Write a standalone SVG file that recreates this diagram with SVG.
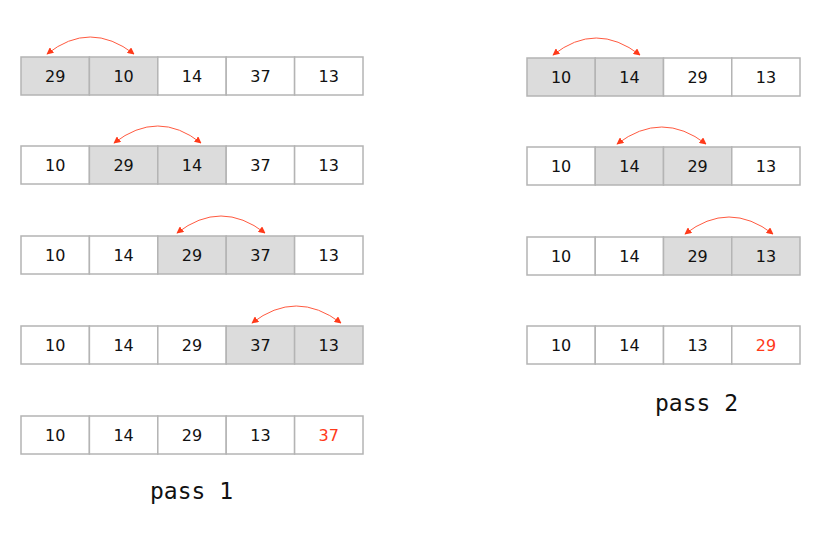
<svg xmlns="http://www.w3.org/2000/svg" width="824" height="533" viewBox="0 0 824 533">
<defs>
<style>
.c{fill:#fff;stroke:#b4b4b4;stroke-width:1.5}
.g{fill:#dcdcdc;stroke:#b4b4b4;stroke-width:1.5}
.t{font-family:"DejaVu Sans",Verdana,sans-serif;font-size:16px;fill:#111;text-anchor:middle}
.r{fill:#ff3a1a}
.a{fill:none;stroke:#ff5a40;stroke-width:1;marker-start:url(#ah);marker-end:url(#ah)}
.p{font-family:"DejaVu Sans Mono","Liberation Mono",monospace;font-size:23px;fill:#111}
</style>
<marker id="ah" viewBox="0 0 10 10" refX="9" refY="5" markerWidth="7" markerHeight="7" markerUnits="userSpaceOnUse" orient="auto-start-reverse">
<path d="M0,0 L10,5 L0,10 z" fill="#ff3a1a"/>
</marker>
</defs>
<rect width="824" height="533" fill="#fff"/>

<g id="p1r1">
<rect class="g" x="21" y="57" width="68.4" height="38"/><rect class="g" x="89.4" y="57" width="68.4" height="38"/><rect class="c" x="157.8" y="57" width="68.4" height="38"/><rect class="c" x="226.2" y="57" width="68.4" height="38"/><rect class="c" x="294.6" y="57" width="68.4" height="38"/>
<text class="t" x="55.2" y="82">29</text><text class="t" x="123.6" y="82">10</text><text class="t" x="192" y="82">14</text><text class="t" x="260.4" y="82">37</text><text class="t" x="328.8" y="82">13</text>
</g>
<g id="p1r2">
<rect class="c" x="21" y="146" width="68.4" height="38"/><rect class="g" x="89.4" y="146" width="68.4" height="38"/><rect class="g" x="157.8" y="146" width="68.4" height="38"/><rect class="c" x="226.2" y="146" width="68.4" height="38"/><rect class="c" x="294.6" y="146" width="68.4" height="38"/>
<text class="t" x="55.2" y="171">10</text><text class="t" x="123.6" y="171">29</text><text class="t" x="192" y="171">14</text><text class="t" x="260.4" y="171">37</text><text class="t" x="328.8" y="171">13</text>
</g>
<g id="p1r3">
<rect class="c" x="21" y="236" width="68.4" height="38"/><rect class="c" x="89.4" y="236" width="68.4" height="38"/><rect class="g" x="157.8" y="236" width="68.4" height="38"/><rect class="g" x="226.2" y="236" width="68.4" height="38"/><rect class="c" x="294.6" y="236" width="68.4" height="38"/>
<text class="t" x="55.2" y="261">10</text><text class="t" x="123.6" y="261">14</text><text class="t" x="192" y="261">29</text><text class="t" x="260.4" y="261">37</text><text class="t" x="328.8" y="261">13</text>
</g>
<g id="p1r4">
<rect class="c" x="21" y="326" width="68.4" height="38"/><rect class="c" x="89.4" y="326" width="68.4" height="38"/><rect class="c" x="157.8" y="326" width="68.4" height="38"/><rect class="g" x="226.2" y="326" width="68.4" height="38"/><rect class="g" x="294.6" y="326" width="68.4" height="38"/>
<text class="t" x="55.2" y="351">10</text><text class="t" x="123.6" y="351">14</text><text class="t" x="192" y="351">29</text><text class="t" x="260.4" y="351">37</text><text class="t" x="328.8" y="351">13</text>
</g>
<g id="p1r5">
<rect class="c" x="21" y="416" width="68.4" height="38"/><rect class="c" x="89.4" y="416" width="68.4" height="38"/><rect class="c" x="157.8" y="416" width="68.4" height="38"/><rect class="c" x="226.2" y="416" width="68.4" height="38"/><rect class="c" x="294.6" y="416" width="68.4" height="38"/>
<text class="t" x="55.2" y="441">10</text><text class="t" x="123.6" y="441">14</text><text class="t" x="192" y="441">29</text><text class="t" x="260.4" y="441">13</text><text class="t r" x="328.8" y="441">37</text>
</g>

<g id="p2r1">
<rect class="g" x="527" y="58" width="68.25" height="38"/><rect class="g" x="595.25" y="58" width="68.25" height="38"/><rect class="c" x="663.5" y="58" width="68.25" height="38"/><rect class="c" x="731.75" y="58" width="68.25" height="38"/>
<text class="t" x="561.1" y="83">10</text><text class="t" x="629.4" y="83">14</text><text class="t" x="697.6" y="83">29</text><text class="t" x="765.9" y="83">13</text>
</g>
<g id="p2r2">
<rect class="c" x="527" y="147" width="68.25" height="38"/><rect class="g" x="595.25" y="147" width="68.25" height="38"/><rect class="g" x="663.5" y="147" width="68.25" height="38"/><rect class="c" x="731.75" y="147" width="68.25" height="38"/>
<text class="t" x="561.1" y="172">10</text><text class="t" x="629.4" y="172">14</text><text class="t" x="697.6" y="172">29</text><text class="t" x="765.9" y="172">13</text>
</g>
<g id="p2r3">
<rect class="c" x="527" y="237" width="68.25" height="38"/><rect class="c" x="595.25" y="237" width="68.25" height="38"/><rect class="g" x="663.5" y="237" width="68.25" height="38"/><rect class="g" x="731.75" y="237" width="68.25" height="38"/>
<text class="t" x="561.1" y="262">10</text><text class="t" x="629.4" y="262">14</text><text class="t" x="697.6" y="262">29</text><text class="t" x="765.9" y="262">13</text>
</g>
<g id="p2r4">
<rect class="c" x="527" y="326" width="68.25" height="38"/><rect class="c" x="595.25" y="326" width="68.25" height="38"/><rect class="c" x="663.5" y="326" width="68.25" height="38"/><rect class="c" x="731.75" y="326" width="68.25" height="38"/>
<text class="t" x="561.1" y="351">10</text><text class="t" x="629.4" y="351">14</text><text class="t" x="697.6" y="351">13</text><text class="t r" x="765.9" y="351">29</text>
</g>

<g id="connectors">
<path class="a" d="M47,54 Q90,20 134,54"/>
<path class="a" d="M114,143 Q158,109 201,143"/>
<path class="a" d="M177,233 Q221,199 265,233"/>
<path class="a" d="M252,323 Q296,289 341,323"/>
<path class="a" d="M553,55 Q596,21 640,55"/>
<path class="a" d="M617,144 Q662,110 706,144"/>
<path class="a" d="M685,234 Q729,200 773,234"/>
</g>

<text id="pass1" class="p" x="150" y="499">pass 1</text>
<text id="pass2" class="p" x="655" y="411">pass 2</text>
</svg>
